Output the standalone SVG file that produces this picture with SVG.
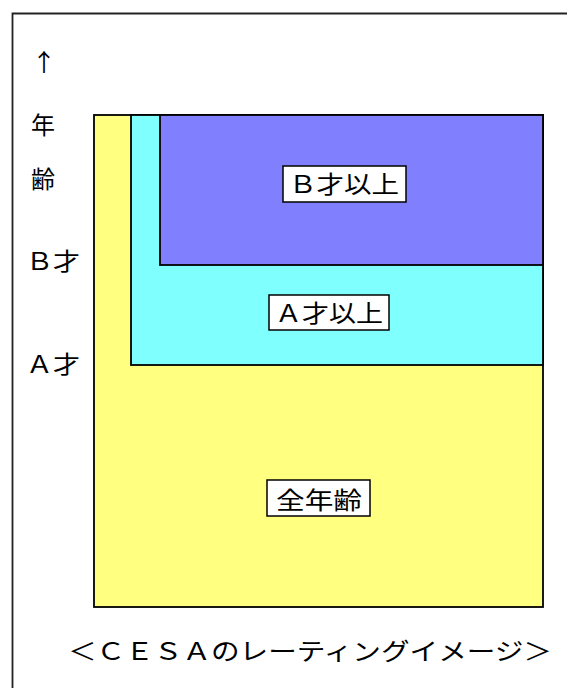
<svg xmlns="http://www.w3.org/2000/svg" width="567" height="688" viewBox="0 0 567 688">
<style>
text{font-family:"Noto Sans CJK JP","Noto Sans CJK SC",sans-serif;fill:#000;font-size:24px}
.lab{text-anchor:middle}
.box{fill:#fff;stroke:#000;stroke-width:1.5}
.area{stroke:#000;stroke-width:1.8}
</style>
<rect width="567" height="688" fill="#fff"/>
<path d="M12.5 700 V13.5 H580" fill="none" stroke="#222" stroke-width="1.8"/>
<g id="axis">
<text x="44" y="71" class="lab">↑</text>
<text x="43" y="134" class="lab">年</text>
<text x="43" y="188" class="lab">齢</text>
<text x="26" y="270" textLength="54" lengthAdjust="spacingAndGlyphs">Ｂ才</text>
<text x="26" y="373" textLength="54" lengthAdjust="spacingAndGlyphs">Ａ才</text>
</g>
<g id="all-ages">
<rect class="area" x="94" y="115" width="449" height="492" fill="#ffff80"/>
</g>
<g id="a-plus">
<rect class="area" x="131" y="115" width="412" height="250" fill="#80ffff"/>
</g>
<g id="b-plus">
<rect class="area" x="160" y="115" width="383" height="150" fill="#8080ff"/>
</g>
<g id="label-b">
<rect class="box" x="283" y="166" width="123" height="36"/>
<text x="289" y="193" textLength="110" lengthAdjust="spacingAndGlyphs">Ｂ才以上</text>
</g>
<g id="label-a">
<rect class="box" x="269" y="295" width="120" height="35"/>
<text x="275" y="322" textLength="108" lengthAdjust="spacingAndGlyphs">Ａ才以上</text>
</g>
<g id="label-all">
<rect class="box" x="267" y="480" width="103" height="36"/>
<text x="276" y="509" textLength="86" lengthAdjust="spacingAndGlyphs">全年齢</text>
</g>
<g id="caption">
<text x="68" y="660" textLength="484" lengthAdjust="spacingAndGlyphs">＜ＣＥＳＡのレーティングイメージ＞</text>
</g>
</svg>
